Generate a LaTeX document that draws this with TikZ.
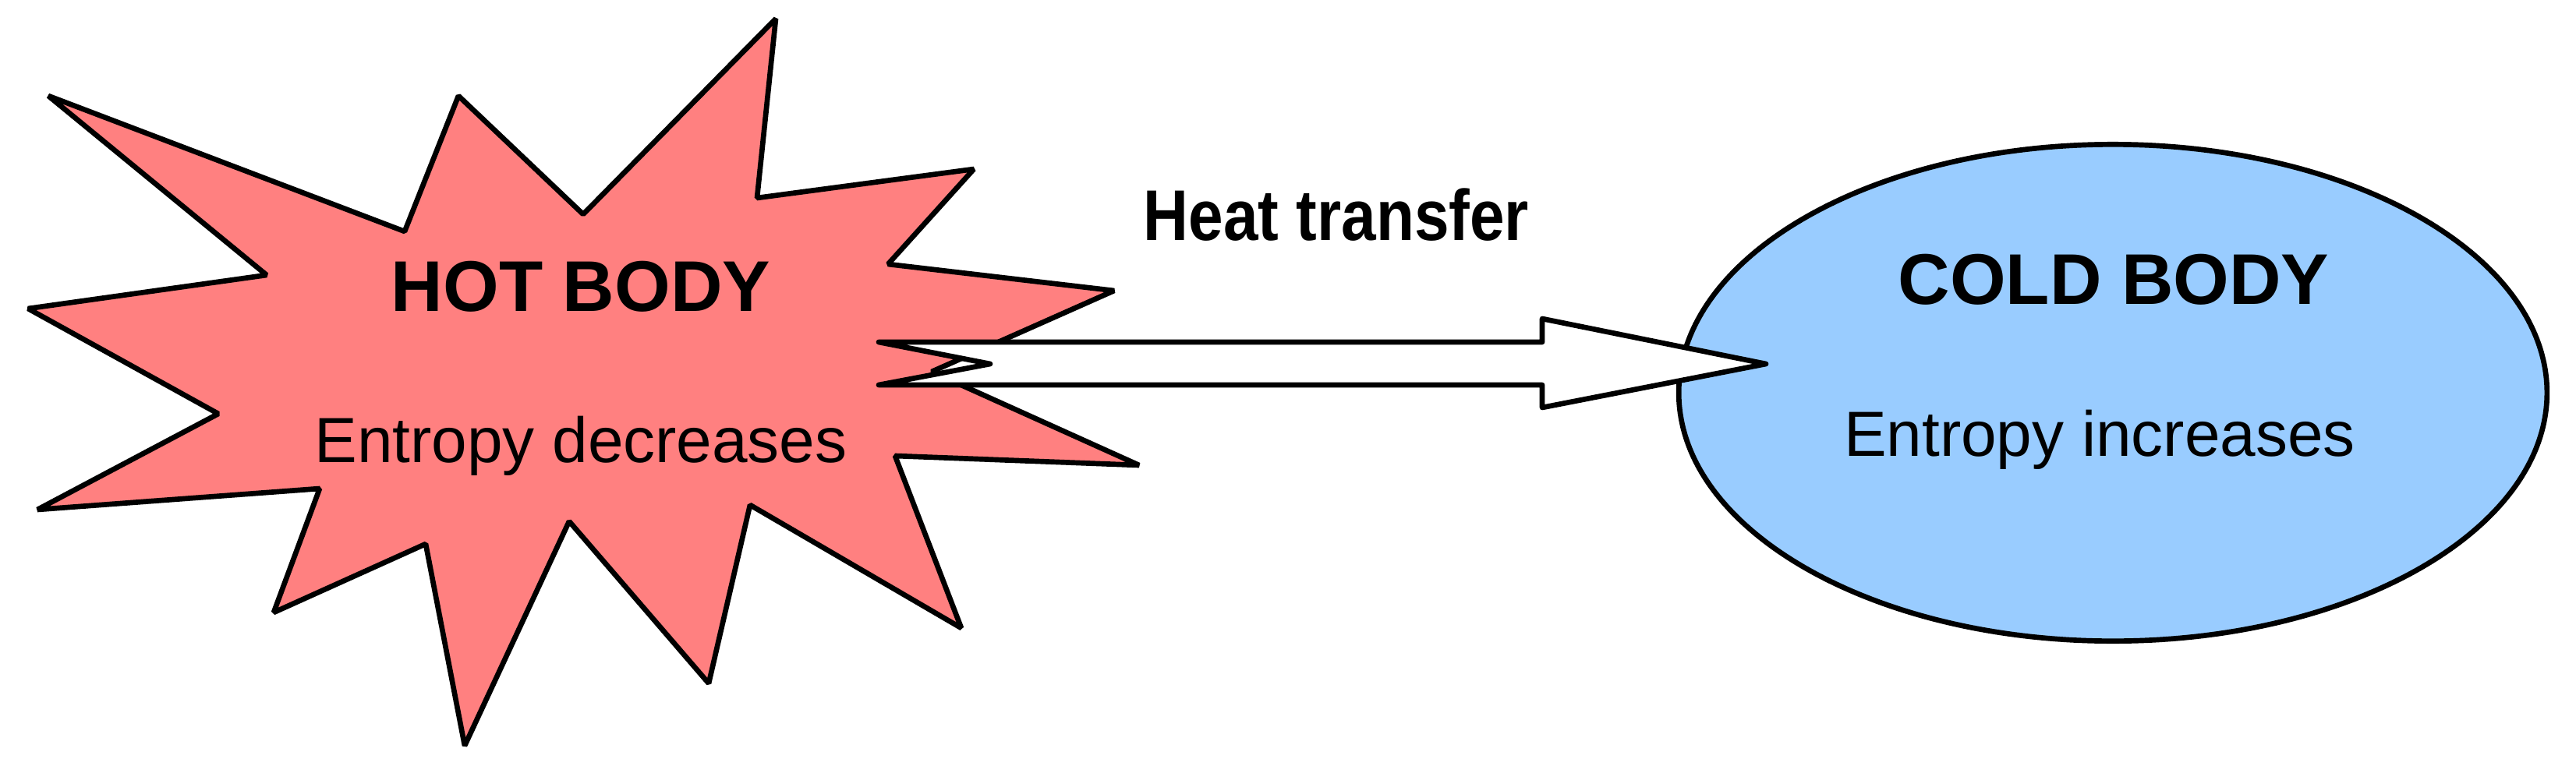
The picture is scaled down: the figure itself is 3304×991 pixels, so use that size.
\documentclass[tikz,border=0pt]{standalone}
\usepackage{fontspec}
\setmainfont{Liberation Sans}
\usepackage{graphicx}
\usetikzlibrary{shapes.geometric, positioning}
\definecolor{hotred}{RGB}{255,128,128}
\definecolor{coldblue}{RGB}{153,204,255}

\begin{document}
\begin{tikzpicture}[x=0.01cm, y=-0.01cm,
        outline/.style={draw=black, line width=1.9pt},
        hotbody/.style={outline, fill=hotred, line join=bevel},
        coldbody/.style={outline, fill=coldblue, ellipse, inner sep=0pt,
                         minimum width=11.13cm, minimum height=6.37cm},
        heatarrow/.style={outline, fill=white, line join=round},
        title/.style={font=\fontsize{26.2pt}{30pt}\selectfont\bfseries, inner sep=0pt, anchor=base},
        note/.style={font=\fontsize{23.3pt}{28pt}\selectfont, inner sep=0pt}]

        \useasboundingbox (0,0) rectangle (3304,991);

        % Hot body (star burst)
        \draw[hotbody] (62,123) -- (342,353) -- (36,396) -- (280,531) -- (48,654)
            -- (410,627) -- (351,786) -- (546,698) -- (596,957) -- (730,669)
            -- (909,877) -- (962,648) -- (1233,806) -- (1148,585) -- (1461,597)
            -- (1195,477) -- (1429,373) -- (1139,339) -- (1249,217) -- (971,254)
            -- (995,24) -- (748,275) -- (588,123) -- (519,297) -- cycle;

        % Cold body
        \node[coldbody] (cold) at (2710,504) {};

        % Heat transfer arrow
        \coordinate (tail) at (1127,466.5);
        \coordinate (tip) at (2265,467);
        \draw[heatarrow] (tail) ++(0,-27.5) -- ++(851,0) -- ++(0,-30) -- (tip)
            -- ++(-287,56) -- ++(0,-29) -- ++(-851,0) -- ++(143,-27) -- cycle;

        % Labels
        \node[title] (hottitle) at (745,399) {HOT BODY};
        \node[note, below=1.94cm of hottitle.base, anchor=base] (hotnote) {Entropy decreases};
        \node[title] (coldtitle) at (2711,390) {COLD BODY};
        \node[note, below=1.95cm of coldtitle.base, anchor=base, xshift=-0.18cm] (coldnote) {Entropy increases};
        \node[title] (heatlabel) at (1714,308) {\scalebox{0.87}[1]{Heat transfer}};

\end{tikzpicture}
\end{document}
